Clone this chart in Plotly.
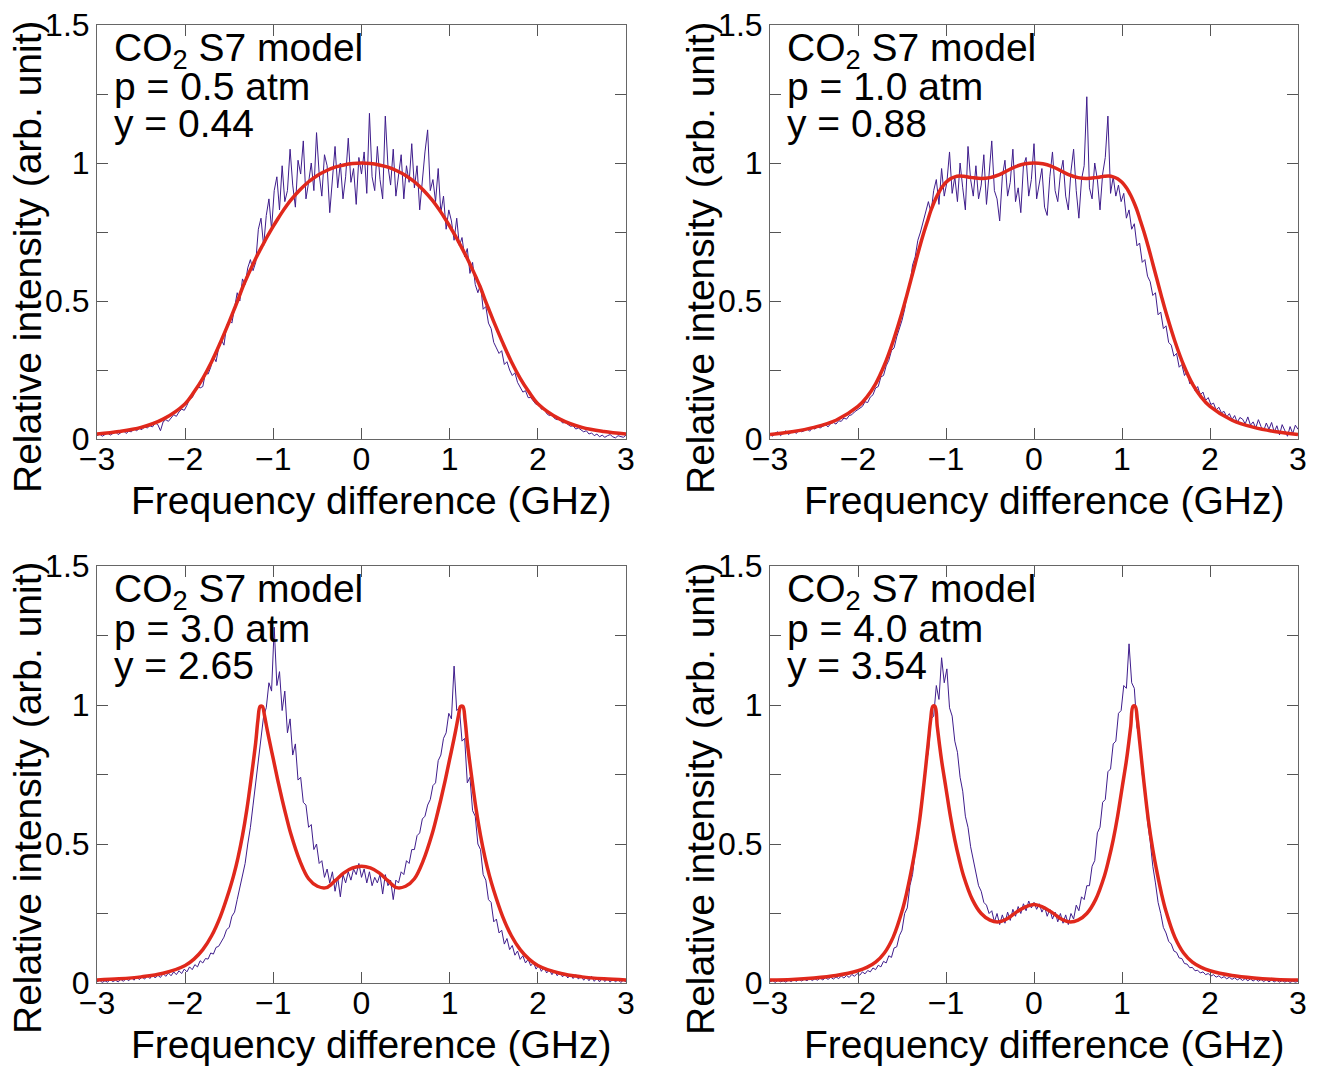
import numpy as np
import plotly.graph_objects as go

# ---------------- data ----------------
# measured spectra sampled on a uniform grid from -3 to 3 GHz (201 points)
x_meas = np.round(np.linspace(-3.0, 3.0, 201), 3)

meas_05atm = [
    0.012, 0.018, 0.010, 0.016, 0.022, 0.014, 0.020, 0.026, 0.016, 0.024,
    0.030, 0.020, 0.028, 0.026, 0.036, 0.030, 0.038, 0.034, 0.044, 0.040,
    0.048, 0.044, 0.058, 0.052, 0.030, 0.062, 0.070, 0.064, 0.078, 0.088,
    0.082, 0.098, 0.108, 0.104, 0.122, 0.145, 0.150, 0.172, 0.190, 0.185,
    0.190, 0.240, 0.235, 0.260, 0.300, 0.280, 0.330, 0.360, 0.340, 0.410,
    0.430, 0.420, 0.480, 0.530, 0.500, 0.580, 0.560, 0.620, 0.650, 0.610,
    0.640, 0.760, 0.800, 0.700, 0.810, 0.870, 0.760, 0.900, 0.950, 0.830,
    0.990, 0.860, 0.900, 1.050, 0.920, 0.840, 1.010, 0.960, 1.080, 0.870,
    0.930, 1.000, 0.900, 1.110, 0.960, 0.880, 1.030, 0.990, 0.820, 0.940,
    1.060, 0.910, 1.000, 0.870, 0.950, 1.090, 0.930, 0.980, 0.850, 1.020,
    0.960, 1.040, 0.890, 1.180, 0.950, 0.900, 1.060, 0.940, 0.870, 1.170,
    0.990, 0.920, 1.050, 0.880, 0.960, 1.030, 0.870, 0.990, 0.930, 1.070,
    0.910, 0.990, 0.830, 0.950, 1.040, 1.120, 0.900, 0.940, 0.860, 0.980,
    0.820, 0.880, 0.760, 0.830, 0.790, 0.720, 0.800, 0.700, 0.730, 0.660,
    0.690, 0.600, 0.640, 0.560, 0.530, 0.560, 0.470, 0.480, 0.420, 0.400,
    0.350, 0.330, 0.310, 0.320, 0.270, 0.280, 0.250, 0.230, 0.240, 0.205,
    0.190, 0.170, 0.175, 0.150, 0.150, 0.138, 0.125, 0.130, 0.108, 0.112,
    0.092, 0.085, 0.088, 0.074, 0.070, 0.072, 0.058, 0.060, 0.052, 0.046,
    0.048, 0.036, 0.040, 0.032, 0.026, 0.030, 0.018, 0.022, 0.012, 0.018,
    0.008, 0.014, 0.006, 0.012, 0.016, 0.008, 0.004, 0.012, 0.010, 0.006,
    0.014,
]

meas_10atm = [
    0.018, 0.010, 0.022, 0.026, 0.012, 0.020, 0.030, 0.016, 0.024, 0.028,
    0.020, 0.034, 0.026, 0.030, 0.038, 0.028, 0.040, 0.036, 0.044, 0.040,
    0.046, 0.052, 0.044, 0.056, 0.060, 0.054, 0.066, 0.064, 0.076, 0.072,
    0.085, 0.088, 0.098, 0.104, 0.112, 0.118, 0.135, 0.132, 0.152, 0.160,
    0.185, 0.190, 0.225, 0.230, 0.265, 0.285, 0.320, 0.330, 0.370, 0.400,
    0.430, 0.470, 0.530, 0.560, 0.630, 0.660, 0.720, 0.750, 0.790, 0.820,
    0.860, 0.820, 0.900, 0.940, 0.850, 0.980, 0.880, 0.930, 1.040, 0.890,
    0.950, 0.860, 1.000, 0.910, 0.830, 1.060, 0.940, 0.880, 0.990, 0.870,
    0.920, 1.030, 0.850, 0.960, 1.080, 0.900, 0.870, 0.790, 0.950, 1.010,
    0.880, 0.930, 1.050, 0.860, 0.910, 0.820, 0.990, 1.020, 0.880, 0.940,
    1.070, 0.870, 0.920, 0.980, 0.840, 0.810, 0.950, 1.040, 0.900, 0.860,
    0.960, 1.010, 0.880, 0.830, 0.970, 1.050, 0.900, 0.800, 0.940, 0.990,
    1.240, 0.910, 0.870, 1.000, 0.940, 0.830, 0.960, 1.020, 1.170, 0.890,
    0.950, 0.880, 0.920, 0.860, 0.890, 0.800, 0.830, 0.760, 0.780, 0.700,
    0.710, 0.640, 0.650, 0.590, 0.570, 0.520, 0.530, 0.450, 0.460, 0.400,
    0.410, 0.350, 0.340, 0.300, 0.310, 0.260, 0.270, 0.230, 0.245, 0.200,
    0.210, 0.175, 0.190, 0.160, 0.170, 0.140, 0.150, 0.125, 0.130, 0.105,
    0.115, 0.095, 0.100, 0.080, 0.092, 0.070, 0.085, 0.060, 0.078, 0.072,
    0.055, 0.080, 0.050, 0.062, 0.040, 0.070, 0.045, 0.030, 0.058, 0.035,
    0.060, 0.025, 0.048, 0.015, 0.052, 0.030, 0.010, 0.045, 0.020, 0.050,
    0.035,
]

meas_30atm = [
    0.004, 0.010, 0.002, 0.008, 0.003, 0.012, 0.005, 0.010, 0.004, 0.013,
    0.006, 0.016, 0.008, 0.020, 0.010, 0.024, 0.012, 0.022, 0.014, 0.026,
    0.016, 0.030, 0.018, 0.028, 0.020, 0.034, 0.024, 0.036, 0.026, 0.040,
    0.030, 0.044, 0.034, 0.050, 0.040, 0.058, 0.048, 0.066, 0.058, 0.080,
    0.072, 0.088, 0.086, 0.108, 0.104, 0.128, 0.132, 0.150, 0.165, 0.192,
    0.200, 0.240, 0.255, 0.300, 0.340, 0.390, 0.430, 0.500, 0.560, 0.640,
    0.720, 0.800, 0.880, 0.960, 0.990, 1.080, 1.050, 1.280, 1.070, 1.120,
    0.980, 1.050, 0.900, 0.950, 0.820, 0.860, 0.730, 0.740, 0.650, 0.640,
    0.560, 0.570, 0.480, 0.500, 0.430, 0.440, 0.380, 0.410, 0.360, 0.400,
    0.330, 0.380, 0.310, 0.390, 0.360, 0.400, 0.370, 0.410, 0.390, 0.430,
    0.380, 0.410, 0.360, 0.400, 0.350, 0.380, 0.360, 0.390, 0.320, 0.390,
    0.350, 0.370, 0.300, 0.370, 0.360, 0.400, 0.390, 0.440, 0.430, 0.480,
    0.480, 0.530, 0.540, 0.590, 0.600, 0.640, 0.660, 0.710, 0.720, 0.800,
    0.820, 0.880, 0.900, 0.970, 0.950, 1.140, 0.980, 0.990, 0.870, 0.880,
    0.720, 0.740, 0.620, 0.600, 0.500, 0.480, 0.390, 0.370, 0.300, 0.290,
    0.220, 0.230, 0.180, 0.190, 0.140, 0.160, 0.120, 0.135, 0.100, 0.115,
    0.085, 0.098, 0.072, 0.085, 0.062, 0.074, 0.050, 0.064, 0.042, 0.056,
    0.036, 0.048, 0.030, 0.044, 0.026, 0.040, 0.022, 0.034, 0.018, 0.032,
    0.016, 0.030, 0.014, 0.026, 0.010, 0.022, 0.008, 0.024, 0.006, 0.018,
    0.004, 0.020, 0.005, 0.016, 0.003, 0.014, 0.004, 0.012, 0.002, 0.010,
    0.004,
]

meas_40atm = [
    0.004, 0.009, 0.002, 0.010, 0.004, 0.008, 0.003, 0.011, 0.005, 0.012,
    0.006, 0.013, 0.007, 0.014, 0.008, 0.016, 0.009, 0.015, 0.010, 0.018,
    0.011, 0.019, 0.013, 0.021, 0.014, 0.022, 0.016, 0.025, 0.018, 0.027,
    0.020, 0.031, 0.024, 0.034, 0.028, 0.040, 0.033, 0.045, 0.040, 0.054,
    0.048, 0.064, 0.058, 0.078, 0.072, 0.098, 0.092, 0.126, 0.130, 0.170,
    0.190, 0.250, 0.270, 0.350, 0.390, 0.470, 0.520, 0.630, 0.680, 0.790,
    0.830, 0.950, 0.960, 1.070, 1.020, 1.170, 1.080, 1.130, 0.990, 0.960,
    0.870, 0.830, 0.740, 0.690, 0.600, 0.560, 0.490, 0.440, 0.400, 0.350,
    0.330, 0.290, 0.280, 0.250, 0.260, 0.220, 0.250, 0.210, 0.245, 0.215,
    0.255, 0.225, 0.265, 0.240, 0.275, 0.250, 0.285, 0.260, 0.295, 0.270,
    0.290, 0.265, 0.285, 0.255, 0.275, 0.240, 0.265, 0.230, 0.255, 0.220,
    0.250, 0.215, 0.245, 0.210, 0.250, 0.230, 0.280, 0.260, 0.310, 0.300,
    0.350, 0.350, 0.420, 0.440, 0.540, 0.560, 0.650, 0.660, 0.760, 0.770,
    0.860, 0.870, 0.970, 0.980, 1.070, 1.060, 1.220, 1.080, 1.060, 0.920,
    0.880, 0.750, 0.700, 0.580, 0.510, 0.420, 0.360, 0.290, 0.250, 0.200,
    0.180, 0.150, 0.140, 0.115, 0.110, 0.090, 0.088, 0.070, 0.068, 0.055,
    0.056, 0.044, 0.046, 0.036, 0.040, 0.030, 0.034, 0.025, 0.030, 0.021,
    0.026, 0.018, 0.023, 0.015, 0.021, 0.013, 0.019, 0.011, 0.017, 0.009,
    0.016, 0.008, 0.015, 0.007, 0.014, 0.006, 0.013, 0.005, 0.012, 0.004,
    0.011, 0.004, 0.010, 0.003, 0.009, 0.003, 0.008, 0.002, 0.007, 0.003,
    0.006,
]

# S7 model curves
x_model = [
    -3.0, -2.75, -2.5, -2.25, -2.0, -1.9, -1.8, -1.7, -1.6, -1.5, -1.45, -1.4,
    -1.35, -1.3, -1.25, -1.2, -1.175, -1.15, -1.125, -1.1, -1.075, -1.05, -1.0,
    -0.95, -0.9, -0.85, -0.8, -0.7, -0.6, -0.5, -0.4, -0.3, -0.2, -0.1, 0.0,
    0.1, 0.2, 0.3, 0.4, 0.5, 0.6, 0.7, 0.8, 0.85, 0.9, 0.95, 1.0, 1.05, 1.075,
    1.1, 1.125, 1.15, 1.175, 1.2, 1.25, 1.3, 1.35, 1.4, 1.45, 1.5, 1.6, 1.7,
    1.8, 1.9, 2.0, 2.25, 2.5, 2.75, 3.0,
]

model_05atm = [
    0.018, 0.027, 0.042, 0.072, 0.128, 0.170, 0.220, 0.280, 0.350, 0.425, 0.465, 0.505,
    0.548, 0.585, 0.620, 0.654, 0.670, 0.685, 0.700, 0.715, 0.730, 0.744, 0.771,
    0.797, 0.822, 0.845, 0.866, 0.902, 0.932, 0.955, 0.972, 0.985, 0.993, 0.998, 1.000,
    0.998, 0.993, 0.985, 0.972, 0.955, 0.932, 0.902, 0.866, 0.845, 0.822, 0.797, 0.771, 0.744, 0.730,
    0.715, 0.700, 0.685, 0.670, 0.654, 0.620, 0.585, 0.548, 0.505, 0.465, 0.425, 0.350, 0.280,
    0.220, 0.170, 0.128, 0.072, 0.042, 0.027, 0.018,
]

model_10atm = [
    0.016, 0.026, 0.042, 0.068, 0.118, 0.152, 0.200, 0.268, 0.355, 0.458, 0.515, 0.575,
    0.635, 0.695, 0.750, 0.800, 0.825, 0.846, 0.865, 0.882, 0.897, 0.910, 0.930,
    0.943, 0.950, 0.953, 0.952, 0.947, 0.944, 0.947, 0.957, 0.973, 0.988, 0.997, 1.000,
    0.997, 0.988, 0.973, 0.957, 0.947, 0.944, 0.947, 0.952, 0.953, 0.950, 0.943, 0.930, 0.910, 0.897,
    0.882, 0.865, 0.846, 0.825, 0.800, 0.750, 0.695, 0.635, 0.575, 0.515, 0.458, 0.355, 0.268,
    0.200, 0.152, 0.118, 0.068, 0.042, 0.026, 0.016,
]

model_30atm = [
    0.011, 0.015, 0.022, 0.035, 0.063, 0.086, 0.120, 0.170, 0.240, 0.333, 0.387, 0.452,
    0.530, 0.625, 0.740, 0.865, 0.945, 0.995, 0.995, 0.962, 0.920, 0.880, 0.805,
    0.730, 0.660, 0.595, 0.535, 0.440, 0.375, 0.348, 0.343, 0.368, 0.396, 0.414, 0.420,
    0.414, 0.396, 0.368, 0.343, 0.348, 0.375, 0.440, 0.535, 0.595, 0.660, 0.730, 0.805, 0.880, 0.920,
    0.962, 0.995, 0.995, 0.945, 0.865, 0.740, 0.625, 0.530, 0.452, 0.387, 0.333, 0.240, 0.170,
    0.120, 0.086, 0.063, 0.035, 0.022, 0.015, 0.011,
]

model_40atm = [
    0.011, 0.013, 0.018, 0.027, 0.044, 0.056, 0.075, 0.108, 0.165, 0.258, 0.320, 0.395,
    0.480, 0.585, 0.720, 0.870, 0.945, 0.995, 0.995, 0.925, 0.860, 0.800, 0.700,
    0.600, 0.515, 0.445, 0.385, 0.300, 0.250, 0.226, 0.220, 0.232, 0.255, 0.273, 0.282,
    0.273, 0.255, 0.232, 0.220, 0.226, 0.250, 0.300, 0.385, 0.445, 0.515, 0.600, 0.700, 0.800, 0.860,
    0.925, 0.995, 0.995, 0.945, 0.870, 0.720, 0.585, 0.480, 0.395, 0.320, 0.258, 0.165, 0.108,
    0.075, 0.056, 0.044, 0.027, 0.018, 0.013, 0.011,
]

panel_pressure = ["0.5", "1.0", "3.0", "4.0"]
panel_y = ["0.44", "0.88", "2.65", "3.54"]
x_tickvals = [-3, -2, -1, 0, 1, 2, 3]
x_ticktext = ["\u22123", "\u22122", "\u22121", "0", "1", "2", "3"]
y_tickvals = [0, 0.25, 0.5, 0.75, 1.0, 1.25, 1.5]
y_ticktext = ["0", " ", "0.5", " ", "1", " ", "1.5"]

measured = [meas_05atm, meas_10atm, meas_30atm, meas_40atm]
models = [model_05atm, model_10atm, model_30atm, model_40atm]

# ---------------- figure ----------------
W, H = 1325, 1066
OFF = 8  # page body margin that shifts the whole figure
FONT = "Liberation Sans, Arial, Helvetica, sans-serif"
PURPLE = "#3f1d8c"
RED = "#e0281c"

# plot-area pixel boxes in the screenshot (left, right, top, bottom)
boxes = [
    (97, 626, 25, 439),
    (770, 1298, 25, 439),
    (97, 626, 566, 983),
    (770, 1298, 566, 983),
]


def px(xp):
    return (xp - OFF) / W


def py(yp):
    return 1 - (yp - OFF) / H


fig = go.Figure()
layout = dict(
    width=W, height=H,
    margin=dict(l=0, r=0, t=0, b=0, autoexpand=False),
    paper_bgcolor="white", plot_bgcolor="white",
    showlegend=False,
    font=dict(family=FONT, color="black"),
)
annotations = []

for k in range(4):
    suffix = "" if k == 0 else str(k + 1)
    xa, ya = "x" + suffix, "y" + suffix
    fig.add_trace(go.Scatter(
        x=x_meas, y=measured[k], mode="lines", xaxis=xa, yaxis=ya,
        line=dict(color=PURPLE, width=1), hoverinfo="skip"))
    fig.add_trace(go.Scatter(
        x=x_model, y=models[k], mode="lines", xaxis=xa, yaxis=ya,
        line=dict(color=RED, width=3.5, shape="spline", smoothing=1.0),
        hoverinfo="skip"))

    l, r, t, b = boxes[k]
    axis_common = dict(
        showgrid=False, zeroline=False, showline=True, linecolor="#666666",
        linewidth=1, mirror="ticks", ticks="inside", ticklen=11,
        tickcolor="#555555", tickwidth=1, automargin=False,
        ticklabeloverflow="allow",
        tickfont=dict(family=FONT, size=32, color="black"),
    )
    layout["xaxis" + suffix] = dict(
        axis_common, domain=[px(l), px(r)], range=[-3, 3],
        tickmode="array", tickvals=x_tickvals, ticktext=x_ticktext,
        anchor=ya, ticklabelstandoff=-8,
    )
    layout["yaxis" + suffix] = dict(
        axis_common, domain=[py(b), py(t)], range=[0, 1.5],
        tickmode="array", tickvals=y_tickvals, ticktext=y_ticktext,
        anchor=xa, ticklabelstandoff=0,
    )

    # text block in the upper-left corner
    lines = ["CO<sub>2</sub> S7 model",
             "p = " + panel_pressure[k] + " atm",
             "y = " + panel_y[k]]
    for j, txt in enumerate(lines):
        annotations.append(dict(
            text=txt, xref="paper", yref="paper",
            x=px(l + 15), y=py(t + 25 + 37 * j),
            xanchor="left", yanchor="middle", showarrow=False,
            font=dict(family=FONT, size=39, color="black")))

    # axis titles
    annotations.append(dict(
        text="Frequency difference (GHz)", xref="paper", yref="paper",
        x=px(l + 274), y=py(b + 61), xanchor="center",
        yanchor="middle", showarrow=False,
        font=dict(family=FONT, size=39, color="black")))
    annotations.append(dict(
        text="Relative intensity (arb. unit)", xref="paper", yref="paper",
        x=px(l - 70), y=py(t + 232), xanchor="center",
        yanchor="middle", showarrow=False, textangle=-90,
        font=dict(family=FONT, size=39, color="black")))

layout["annotations"] = annotations
fig.update_layout(**layout)
fig.write_html("out.html")
